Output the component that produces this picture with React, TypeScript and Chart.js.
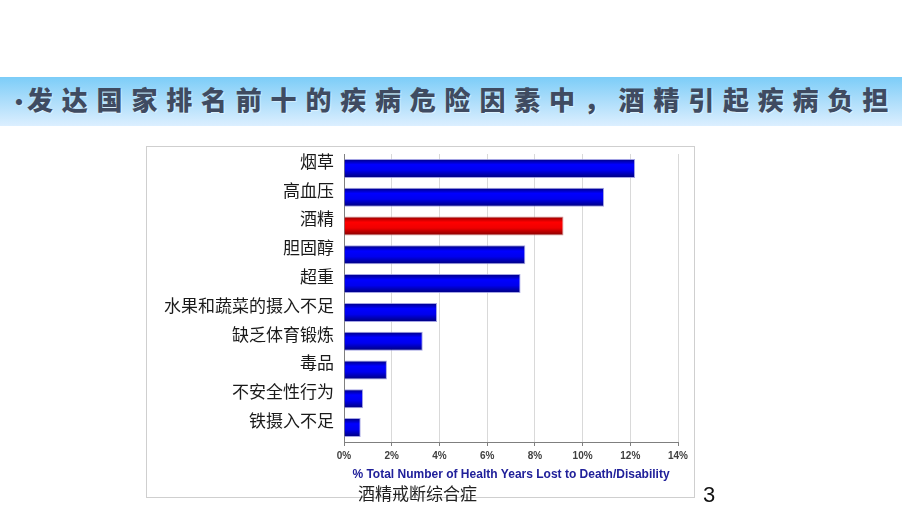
import React, { useEffect, useRef } from "react";
import { Chart, registerables } from "chart.js";

Chart.register(...registerables);

const categories = [
  "烟草",
  "高血压",
  "酒精",
  "胆固醇",
  "超重",
  "水果和蔬菜的摄入不足",
  "缺乏体育锻炼",
  "毒品",
  "不安全性行为",
  "铁摄入不足",
];
const values = [12.2, 10.9, 9.2, 7.6, 7.4, 3.9, 3.3, 1.8, 0.8, 0.7];
const highlightIndex = 2;
const xTicksMax = 14;
const xTickStep = 2;
const titleText = "发达国家排名前十的疾病危险因素中，酒精引起疾病负担";
const axisTitle = "% Total Number of Health Years Lost to Death/Disability";
const footerText = "酒精戒断综合症";
const pageNumber = "3";

const BAR_H = 19;

export default function App() {
  const canvasRef = useRef<HTMLCanvasElement | null>(null);

  useEffect(() => {
    if (!canvasRef.current) return;
    const chart = new Chart(canvasRef.current, {
      type: "bar",
      data: {
        labels: categories,
        datasets: [
          {
            data: values,
            categoryPercentage: 1,
            barPercentage: 0.66,
            borderWidth: 1,
            borderColor: (c: any) =>
              c.dataIndex === highlightIndex ? "rgba(200,120,120,0.8)" : "rgba(140,140,220,0.8)",
            backgroundColor: (c: any) => {
              const ch = c.chart;
              const red = c.dataIndex === highlightIndex;
              const flat = red ? "#ff0000" : "#0000ff";
              const sc = ch.scales && ch.scales.y;
              if (!sc || c.dataIndex === undefined) return flat;
              const yc = sc.getPixelForValue(c.dataIndex);
              if (!isFinite(yc)) return flat;
              const g = ch.ctx.createLinearGradient(0, yc - BAR_H / 2, 0, yc + BAR_H / 2);
              if (red) {
                g.addColorStop(0, "#8a0000");
                g.addColorStop(0.3, "#ff0000");
                g.addColorStop(0.6, "#f00000");
                g.addColorStop(1, "#800000");
              } else {
                g.addColorStop(0, "#00007a");
                g.addColorStop(0.3, "#0000ff");
                g.addColorStop(0.6, "#0000ee");
                g.addColorStop(1, "#000078");
              }
              return g;
            },
          },
        ],
      },
      options: {
        indexAxis: "y",
        animation: false,
        responsive: false,
        maintainAspectRatio: false,
        layout: { padding: { top: 8, right: 17, left: 0, bottom: 0 } },
        plugins: { legend: { display: false }, tooltip: { enabled: false } },
        scales: {
          y: {
            type: "category",
            grid: { display: false, drawTicks: false },
            border: { display: true, color: "#7f7f7f", width: 1 },
            ticks: {
              padding: 10,
              labelOffset: -7,
              color: "#1a1a1a",
              font: { family: "'Noto Sans CJK SC', sans-serif", size: 17 },
            },
            afterFit: (s: any) => {
              s.width = 198;
              s.paddingTop = 0;
              s.paddingBottom = 0;
            },
          },
          x: {
            min: 0,
            max: xTicksMax,
            grid: {
              color: "#d9d9d9",
              tickColor: "#7f7f7f",
              tickLength: 4,
              drawTicks: true,
            },
            border: { display: true, color: "#7f7f7f", width: 1 },
            ticks: {
              stepSize: xTickStep,
              padding: 4,
              color: "#404040",
              font: { family: "'Liberation Sans', Arial, sans-serif", size: 10, weight: "bold" },
              callback: (v: any) => v + "%",
            },
            title: {
              display: true,
              text: axisTitle,
              color: "#20209a",
              font: { family: "'Liberation Sans', Arial, sans-serif", size: 12, weight: "bold" },
              padding: { top: 0, bottom: 16 },
            },
            afterFit: (s: any) => {
              s.height = 56;
            },
          },
        },
      },
    } as any);
    return () => chart.destroy();
  }, []);

  return (
    <div
      style={{
        position: "absolute",
        left: 0,
        top: 0,
        width: 920,
        height: 518,
        background: "#ffffff",
        overflow: "hidden",
      }}
    >
      <div
        style={{
          position: "absolute",
          left: 0,
          top: 77,
          width: 902,
          height: 49,
          background: "linear-gradient(to bottom, #7ccdf8 0%, #a9dcfa 45%, #dcefff 100%)",
        }}
      />
      <div
        style={{
          position: "absolute",
          left: 8,
          top: 84,
          fontFamily: "'Noto Sans CJK SC', sans-serif",
          fontWeight: 900,
          fontSize: 26,
          lineHeight: "30px",
          color: "#3f4b61",
          whiteSpace: "nowrap",
          textShadow: "1px 1px 1px rgba(255,255,255,0.5)",
        }}
      >
        <span style={{ display: "inline-block", width: 19, fontSize: 22 }}>•</span>
        <span style={{ letterSpacing: "8.8px" }}>{titleText}</span>
      </div>
      <div
        style={{
          position: "absolute",
          left: 146,
          top: 146,
          width: 549,
          height: 352,
          boxSizing: "border-box",
          border: "1px solid #cfcfcf",
        }}
      />
      <canvas
        ref={canvasRef}
        width={549}
        height={352}
        style={{ position: "absolute", left: 146, top: 146, width: 549, height: 352 }}
      />
      <div
        style={{
          position: "absolute",
          left: 358,
          top: 482,
          fontFamily: "'Noto Sans CJK SC', serif",
          fontSize: 17,
          lineHeight: "22px",
          color: "#222",
          whiteSpace: "nowrap",
        }}
      >
        {footerText}
      </div>
      <div
        style={{
          position: "absolute",
          left: 703,
          top: 482,
          fontFamily: "'Liberation Sans', Arial, sans-serif",
          fontSize: 22,
          lineHeight: "26px",
          color: "#111",
        }}
      >
        {pageNumber}
      </div>
    </div>
  );
}
